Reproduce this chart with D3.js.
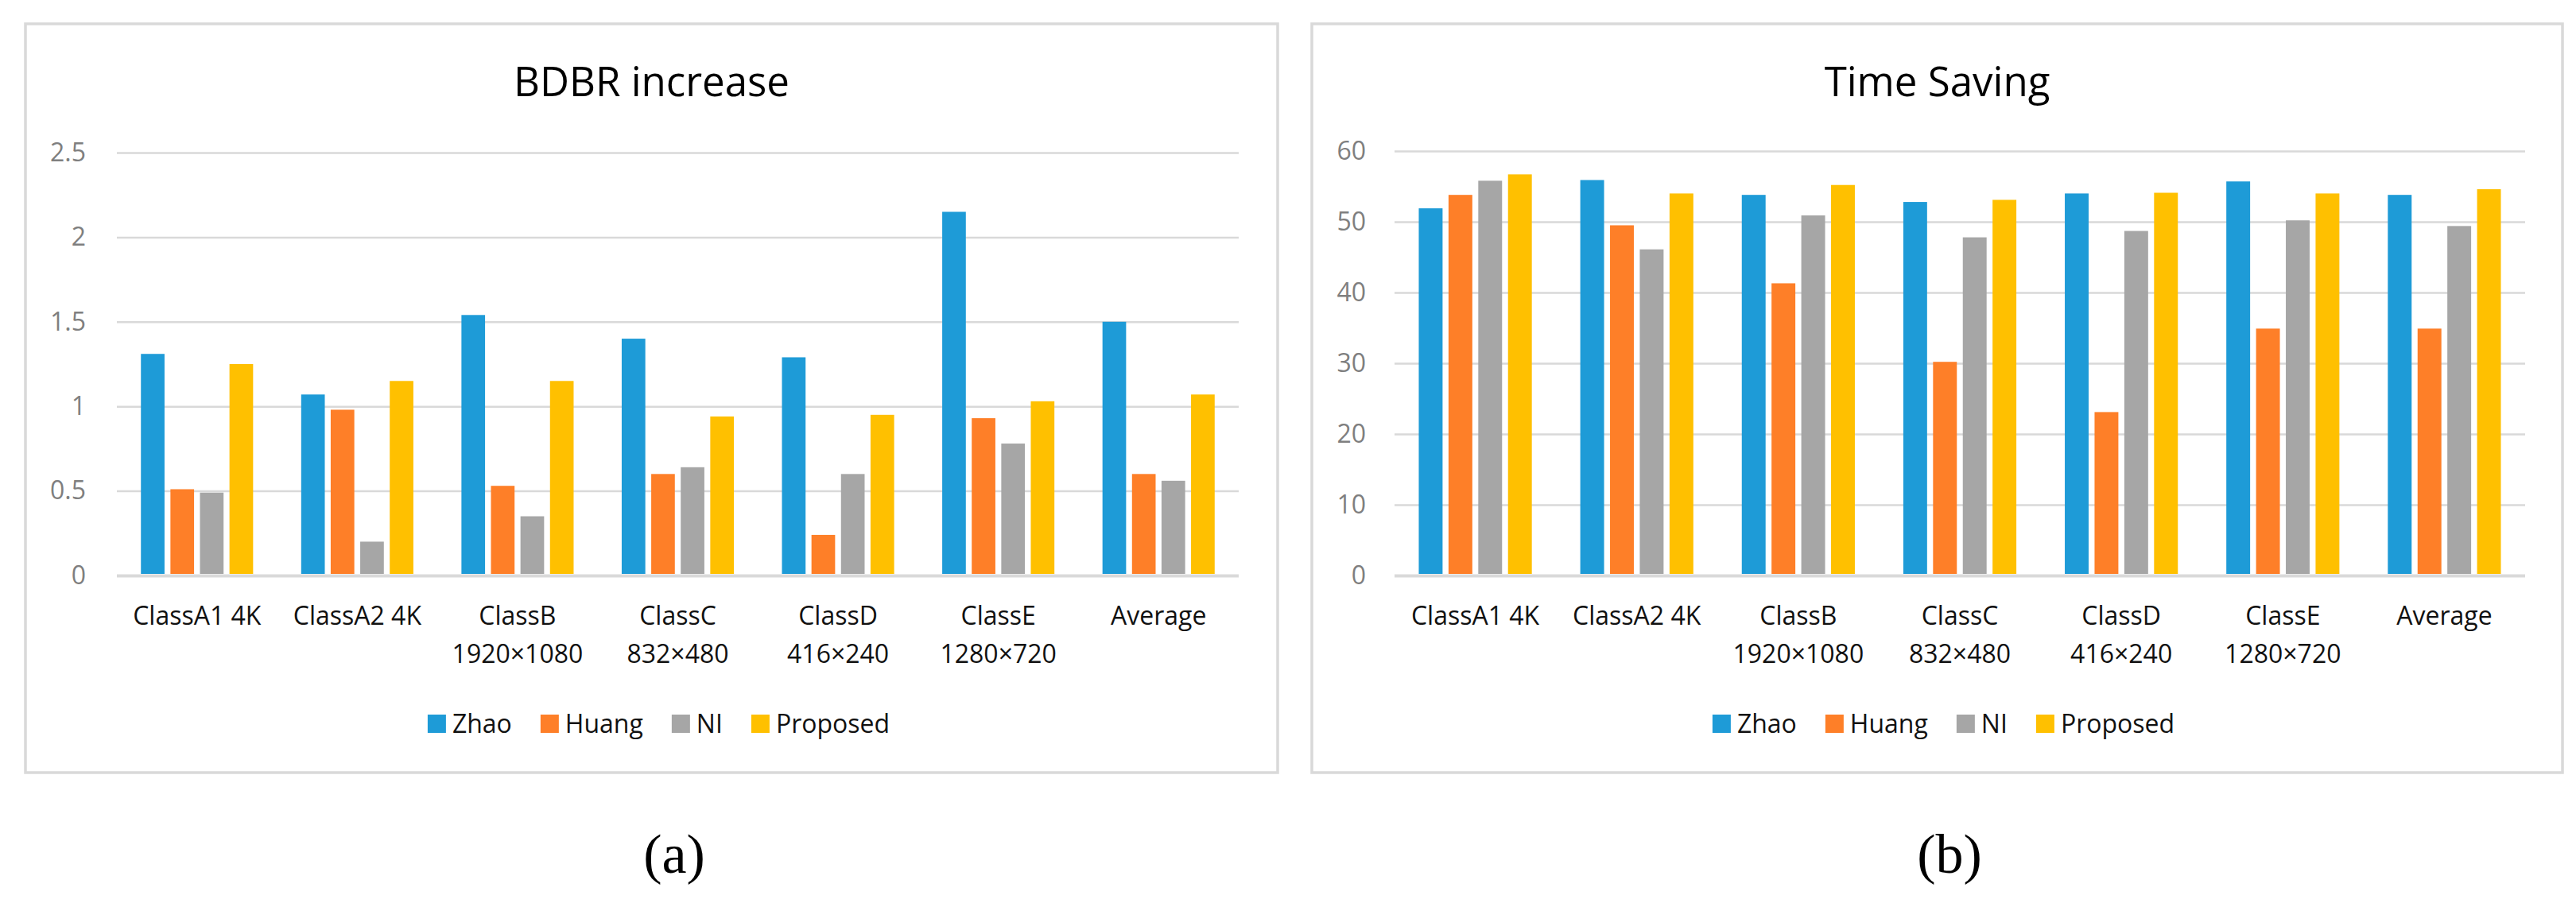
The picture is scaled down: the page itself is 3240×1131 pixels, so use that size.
<!DOCTYPE html>
<html>
<head>
<meta charset="utf-8">
<script src="https://cdn.jsdelivr.net/npm/d3@7"></script>
<style>
  html, body { margin: 0; padding: 0; background: #fff; }
  svg { display: block; }
</style>
</head>
<body>
<div id="chart"></div>
<script>
const width = 3240;
const height = 1131;

const categories = ["ClassA1 4K", "ClassA2 4K", "ClassB\n1920×1080", "ClassC\n832×480", "ClassD\n416×240", "ClassE\n1280×720", "Average"];
const seriesNames = ["Zhao", "Huang", "NI", "Proposed"];
const seriesColors = ["#1e9bd7", "#fe7f28", "#a6a6a6", "#ffc000"];

// BDBR increase (a)
const bdbrZhao     = [1.31, 1.07, 1.54, 1.40, 1.29, 2.15, 1.50];
const bdbrHuang    = [0.51, 0.98, 0.53, 0.60, 0.24, 0.93, 0.60];
const bdbrNI       = [0.49, 0.20, 0.35, 0.64, 0.60, 0.78, 0.56];
const bdbrProposed = [1.25, 1.15, 1.15, 0.94, 0.95, 1.03, 1.07];
const bdbrTicks = [0, 0.5, 1, 1.5, 2, 2.5];

// Time saving (b)
const timeZhao     = [51.9, 55.9, 53.8, 52.8, 54.0, 55.7, 53.8];
const timeHuang    = [53.8, 49.5, 41.3, 30.2, 23.1, 34.9, 34.9];
const timeNI       = [55.8, 46.1, 50.9, 47.8, 48.7, 50.2, 49.4];
const timeProposed = [56.7, 54.0, 55.2, 53.1, 54.1, 54.0, 54.6];
const timeTicks = [0, 10, 20, 30, 40, 50, 60];

const font = "'Open Sans', 'Noto Sans', sans-serif";

const svg = d3.select("#chart")
    .append("svg")
    .attr("width", width)
    .attr("height", height);

function drawPanel(opts) {
    const g = svg.append("g");

    // frame
    g.append("rect")
        .attr("x", opts.box[0])
        .attr("y", opts.box[1])
        .attr("width", opts.box[2] - opts.box[0])
        .attr("height", opts.box[3] - opts.box[1])
        .attr("fill", "#fff")
        .attr("stroke", "#d9d9d9")
        .attr("stroke-width", 3.5);

    const cx = (opts.box[0] + opts.box[2]) / 2;

    // title
    g.append("text")
        .attr("x", cx)
        .attr("y", 121)
        .attr("text-anchor", "middle")
        .attr("font-family", font)
        .attr("font-size", 51)
        .attr("fill", "#000")
        .text(opts.title);

    const x = d3.scaleBand()
        .domain(categories)
        .range([opts.left, opts.right])
        .paddingInner(0.3)
        .paddingOuter(0.15);

    const xInner = d3.scaleBand()
        .domain(seriesNames)
        .range([0, x.bandwidth()])
        .paddingInner(0.2);

    const y = d3.scaleLinear()
        .domain([0, opts.ticks[opts.ticks.length - 1]])
        .range([724, opts.top]);

    // grid lines
    const grid = g.append("g")
        .attr("transform", `translate(${opts.left},0)`)
        .call(d3.axisLeft(y).tickValues(opts.ticks).tickSize(-(opts.right - opts.left)).tickFormat(""));
    grid.select(".domain").remove();
    grid.selectAll(".tick line")
        .attr("stroke", "#d9d9d9")
        .attr("stroke-width", d => d === 0 ? 4 : 2.5);

    // y tick labels
    const yAxis = g.append("g")
        .attr("transform", `translate(${opts.labelX},0)`)
        .call(d3.axisLeft(y).tickValues(opts.ticks).tickSize(0).tickPadding(0).tickFormat(d3.format("~g")));
    yAxis.select(".domain").remove();
    yAxis.selectAll("text")
        .attr("font-family", font)
        .attr("font-size", 32)
        .attr("fill", "#7f7f7f");

    // bars
    const rows = categories.map((c, i) => ({
        cat: c,
        vals: seriesNames.map((s, j) => ({ s: s, v: opts.series[j][i], color: seriesColors[j] }))
    }));

    g.selectAll(".group")
        .data(rows)
        .enter().append("g")
        .attr("transform", d => `translate(${x(d.cat)},0)`)
        .selectAll("rect")
        .data(d => d.vals)
        .enter().append("rect")
        .attr("x", d => xInner(d.s))
        .attr("width", xInner.bandwidth())
        .attr("y", d => y(d.v))
        .attr("height", d => y(0) - 2 - y(d.v))
        .attr("fill", d => d.color);

    // x labels
    const xAxis = g.append("g")
        .attr("transform", "translate(0,786)")
        .call(d3.axisBottom(x).tickSize(0).tickPadding(0));
    xAxis.select(".domain").remove();
    xAxis.selectAll(".tick text").each(function(d) {
        const t = d3.select(this);
        t.text(null)
            .attr("y", 0)
            .attr("dy", null)
            .attr("font-family", font)
            .attr("font-size", 32)
            .attr("fill", "#111");
        d.split("\n").forEach((line, k) => {
            t.append("tspan")
                .attr("x", 0)
                .attr("y", k * 48)
                .text(line);
        });
    });

    // legend
    const legend = g.append("g");
    let lx = 0;
    seriesNames.forEach((s, j) => {
        const item = legend.append("g").attr("transform", `translate(${lx},0)`);
        item.append("rect")
            .attr("x", 0)
            .attr("y", 899)
            .attr("width", 23)
            .attr("height", 23)
            .attr("fill", seriesColors[j]);
        const txt = item.append("text")
            .attr("x", 31)
            .attr("y", 922)
            .attr("font-family", font)
            .attr("font-size", 32)
            .attr("fill", "#111")
            .text(s);
        lx += 31 + txt.node().getComputedTextLength() + 36;
    });
    const legendWidth = lx - 36;
    legend.attr("transform", `translate(${cx + opts.legendShift - legendWidth / 2},0)`);

    // caption
    svg.append("text")
        .attr("x", opts.captionX)
        .attr("y", 1098)
        .attr("text-anchor", "middle")
        .attr("font-family", "'Liberation Serif', 'Times New Roman', serif")
        .attr("font-size", 70)
        .attr("fill", "#000")
        .text(opts.caption);
}

drawPanel({
    box: [32, 30, 1607, 972],
    left: 147, right: 1558, top: 192, labelX: 108,
    ticks: bdbrTicks,
    title: "BDBR increase",
    series: [bdbrZhao, bdbrHuang, bdbrNI, bdbrProposed],
    legendShift: 9,
    caption: "(a)", captionX: 848
});

drawPanel({
    box: [1650, 30, 3223, 972],
    left: 1754, right: 3176, top: 190, labelX: 1718,
    ticks: timeTicks,
    title: "Time Saving",
    series: [timeZhao, timeHuang, timeNI, timeProposed],
    legendShift: 8,
    caption: "(b)", captionX: 2452
});
</script>
</body>
</html>
